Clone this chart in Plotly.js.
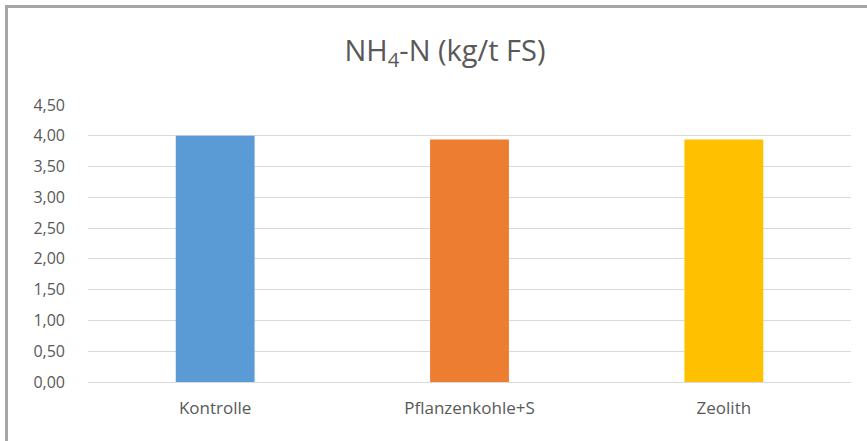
<!DOCTYPE html>
<html>
<head>
<meta charset="utf-8">
<script src="https://cdn.plot.ly/plotly-3.0.1.min.js"></script>
<style>
  html, body { margin: 0; padding: 0; background: #ffffff; }
  #frame { position: absolute; left: 0; top: 0; width: 867px; height: 441px; overflow: hidden; }
  #border { position: absolute; left: 5px; top: 5px; width: 880px; height: 460px;
            border-left: 3px solid #a6a6a6; border-top: 3px solid #a6a6a6; pointer-events: none; }
  #chart { position: absolute; left: 0; top: 0; width: 867px; height: 441px; }
</style>
</head>
<body>
<div id="frame">
  <div id="chart"></div>
  <div id="border"></div>
</div>
<script>
const categories = ["Kontrolle", "Pflanzenkohle+S", "Zeolith"];
const values = [4.00, 3.94, 3.94];
const barColors = ["#5b9bd5", "#ed7d31", "#ffc000"];
const chartTitle = "NH<sub>4</sub>-N (kg/t FS)";

const trace = {
  type: "bar",
  x: categories,
  y: values,
  marker: { color: barColors },
  hoverinfo: "x+y"
};

const layout = {
  width: 867,
  height: 441,
  paper_bgcolor: "rgba(0,0,0,0)",
  plot_bgcolor: "#ffffff",
  separators: ",.",
  margin: { l: 88, r: 16, t: 105, b: 59 },
  bargap: 0.69,
  showlegend: false,
  title: {
    text: chartTitle,
    font: { family: "Open Sans, sans-serif", size: 29, color: "#595959" },
    x: 445 / 867, xref: "container", xanchor: "center",
    y: 1 - 51 / 441, yref: "container", yanchor: "middle"
  },
  font: { family: "Open Sans, sans-serif", size: 16, color: "#595959" },
  xaxis: {
    type: "category",
    showgrid: false,
    showline: false,
    zeroline: false,
    ticks: "",
    ticklabelstandoff: 14,
    tickfont: { size: 17, color: "#595959" }
  },
  yaxis: {
    range: [0, 4.5],
    dtick: 0.5,
    tick0: 0,
    tickformat: ".2f",
    showgrid: true,
    gridcolor: "#d9d9d9",
    gridwidth: 1,
    zeroline: true,
    zerolinecolor: "#d9d9d9",
    zerolinewidth: 1,
    showline: false,
    ticks: "",
    ticklabelstandoff: 22,
    tickfont: { size: 16, color: "#595959" }
  }
};

Plotly.newPlot("chart", [trace], layout, { displayModeBar: false, staticPlot: true });
</script>
</body>
</html>
